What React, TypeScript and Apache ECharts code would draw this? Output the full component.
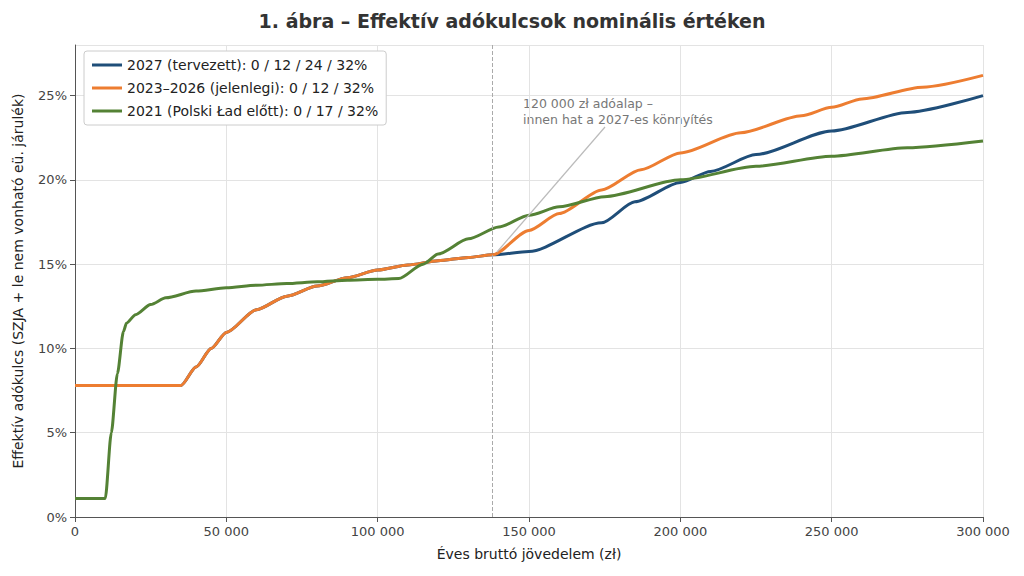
import React, { useEffect, useRef } from "react";
import * as echarts from "echarts";

const xTicks = [0, 50000, 100000, 150000, 200000, 250000, 300000];
const orange: [number, number][] = [
  [0, 7.8], [35000, 7.8], [40000, 8.9], [45000, 10.0], [50000, 10.95], [60000, 12.3], [70000, 13.1],
  [80000, 13.7], [90000, 14.2], [100000, 14.65], [110000, 14.95], [120000, 15.2], [130000, 15.4],
  [138000, 15.55], [150000, 17.0], [160000, 18.0], [174000, 19.4], [187000, 20.6], [200000, 21.6],
  [220000, 22.8], [240000, 23.8], [250000, 24.3], [260000, 24.8], [280000, 25.5], [300000, 26.2],
];
const blue: [number, number][] = [
  [0, 7.8], [35000, 7.8], [40000, 8.9], [45000, 10.0], [50000, 10.95], [60000, 12.3], [70000, 13.1],
  [80000, 13.7], [90000, 14.2], [100000, 14.65], [110000, 14.95], [120000, 15.2], [130000, 15.4],
  [138000, 15.55], [150000, 15.75], [174000, 17.45], [185000, 18.7], [200000, 19.85], [210000, 20.5],
  [225000, 21.5], [250000, 22.9], [275000, 24.0], [300000, 25.0],
];
const green: [number, number][] = [
  [0, 1.1], [10000, 1.1], [12000, 5.0], [14000, 8.5], [16000, 11.0], [17000, 11.5], [20000, 12.0],
  [25000, 12.6], [30000, 13.0], [40000, 13.4], [50000, 13.6], [60000, 13.75], [70000, 13.85],
  [80000, 13.95], [90000, 14.05], [100000, 14.1], [107000, 14.15], [115000, 15.0], [120000, 15.6],
  [130000, 16.5], [140000, 17.2], [150000, 17.9], [160000, 18.4], [175000, 19.0], [200000, 20.0],
  [225000, 20.8], [250000, 21.4], [275000, 21.9], [300000, 22.3],
];
const threshold = 138000;

const fmt = (v: number) => v === 0 ? "0" : v.toLocaleString("en-US").replace(/,/g, " ");

export default function App() {
  const ref = useRef<HTMLDivElement>(null);
  useEffect(() => {
    const chart = echarts.init(ref.current!, null, { renderer: "svg" });
    const font = "DejaVu Sans";
    const line = (name: string, data: [number, number][], color: string, z: number, extra: any = {}) => ({
      name, type: "line", data, showSymbol: false, smooth: 0.25, smoothMonotone: "x", z,
      lineStyle: { color, width: 3 }, itemStyle: { color }, ...extra,
    });
    chart.setOption({
      animation: false,
      textStyle: { fontFamily: font },
      title: { text: "1. ábra – Effektív adókulcsok nominális értéken", left: "center", top: 6,
        textStyle: { fontSize: 19, fontWeight: "bold", color: "#333", fontFamily: font } },
      grid: { left: 75, right: 41, top: 45, bottom: 59 },
      legend: { orient: "vertical", left: 84, top: 51, itemWidth: 30, itemHeight: 3, itemGap: 9,
        backgroundColor: "#fff", borderColor: "#ccc", borderWidth: 1, borderRadius: 3, padding: [7, 8],
        textStyle: { fontSize: 14, color: "#222" }, icon: "rect",
        data: ["2027 (tervezett): 0 / 12 / 24 / 32%", "2023–2026 (jelenlegi): 0 / 12 / 32%", "2021 (Polski Ład előtt): 0 / 17 / 32%"] },
      xAxis: { type: "value", min: 0, max: 300000, interval: 50000,
        name: "Éves bruttó jövedelem (zł)", nameLocation: "middle", nameGap: 30,
        nameTextStyle: { fontSize: 14, color: "#222" },
        axisLine: { lineStyle: { color: "#555" } }, axisTick: { show: true, lineStyle: { color: "#555" } },
        axisLabel: { formatter: fmt, color: "#444", fontSize: 13 },
        splitLine: { lineStyle: { color: "#e3e3e3" } } },
      yAxis: { type: "value", min: 0, max: 28, interval: 5,
        name: "Effektív adókulcs (SZJA + le nem vonható eü. járulék)", nameLocation: "middle", nameGap: 50,
        nameTextStyle: { fontSize: 14, color: "#222" },
        axisLine: { show: true, lineStyle: { color: "#555" } }, axisTick: { show: true, lineStyle: { color: "#555" } },
        axisLabel: { formatter: "{value}%", color: "#444", fontSize: 13, showMaxLabel: false },
        splitLine: { lineStyle: { color: "#e3e3e3" } } },
      series: [
        line("2027 (tervezett): 0 / 12 / 24 / 32%", blue, "#1f4e79", 2, {
          markLine: { silent: true, symbol: "none", label: { show: false },
            lineStyle: { color: "#aaa", type: "dashed", width: 1 }, data: [{ xAxis: threshold }] } }),
        line("2023–2026 (jelenlegi): 0 / 12 / 32%", orange, "#ed7d31", 3),
        line("2021 (Polski Ład előtt): 0 / 17 / 32%", green, "#548235", 4),
      ],
      graphic: [
        { type: "line", shape: { x1: 605, y1: 127, x2: 497, y2: 252 }, style: { stroke: "#bbb", lineWidth: 1.2 }, z: 10 },
        { type: "text", x: 523, y: 95, style: { text: "120 000 zł adóalap –\ninnen hat a 2027-es könnyítés",
          fill: "#777", fontSize: 12.5, fontFamily: font, lineHeight: 16 } },
      ],
    });
    return () => chart.dispose();
  }, []);
  return <div ref={ref} style={{ width: 1024, height: 576, position: "absolute", left: 0, top: 0 }} />;
}
